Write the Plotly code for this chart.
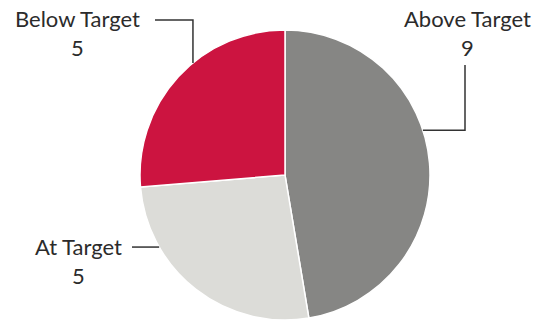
import math
import plotly.graph_objects as go

labels = ["Above Target", "At Target", "Below Target"]
values = [9, 5, 5]
colors = ["#868684", "#dcdcd8", "#cc1440"]

W, H = 546, 322
ML, MR, MT, MB = 140, 116, 30, 2
PW, PH = W - ML - MR, H - MT - MB
CX, CY, R = ML + PW / 2, MT + PH / 2, PW / 2

def px(x):
    return (x - ML) / PW

def py(y):
    return (H - MB - y) / PH

def anchor(deg):
    a = math.radians(deg)
    return CX + R * math.sin(a), CY - R * math.cos(a)

# leader configuration: anchor angle (deg clockwise from top), elbow, label position
leaders = {
    "Above Target": dict(angle=72, kind="right", elbow_x=465, end_y=65, lx=467, ly=33),
    "Below Target": dict(angle=320.6, kind="up", elbow_y=20, end_x=155, lx=77, ly=33),
    "At Target": dict(angle=240.2, kind="left", end_x=132, lx=78, ly=261),
}

fig = go.Figure(go.Pie(
    labels=labels, values=values, sort=False, direction="clockwise", rotation=0,
    marker=dict(colors=colors, line=dict(color="white", width=1.5)),
    textinfo="none", hoverinfo="label+value", showlegend=False,
    domain=dict(x=[0, 1], y=[0, 1]),
))

shapes, annotations = [], []
lc = "#333333"
for lab, v in zip(labels, values):
    cfg = leaders[lab]
    ax, ay = anchor(cfg["angle"])
    if cfg["kind"] == "right":
        pts = [(ax, ay), (cfg["elbow_x"], ay), (cfg["elbow_x"], cfg["end_y"])]
    elif cfg["kind"] == "up":
        pts = [(ax, ay), (ax, cfg["elbow_y"]), (cfg["end_x"], cfg["elbow_y"])]
    else:
        pts = [(ax, ay), (cfg["end_x"], ay)]
    path = "M " + " L ".join(f"{px(x):.4f},{py(y):.4f}" for x, y in pts)
    shapes.append(dict(type="path", path=path, xref="paper", yref="paper",
                       line=dict(color=lc, width=1.5)))
    annotations.append(dict(text=f"{lab}<br>{v}", x=px(cfg["lx"]), y=py(cfg["ly"]),
                            xref="paper", yref="paper", showarrow=False,
                            xanchor="center", yanchor="middle", align="center",
                            font=dict(family="Lato", size=22, color="#2b2b2b")))

fig.update_layout(width=W, height=H, margin=dict(l=ML, r=MR, t=MT, b=MB),
                  paper_bgcolor="white", plot_bgcolor="white",
                  shapes=shapes, annotations=annotations)
fig.write_html("out.html")
